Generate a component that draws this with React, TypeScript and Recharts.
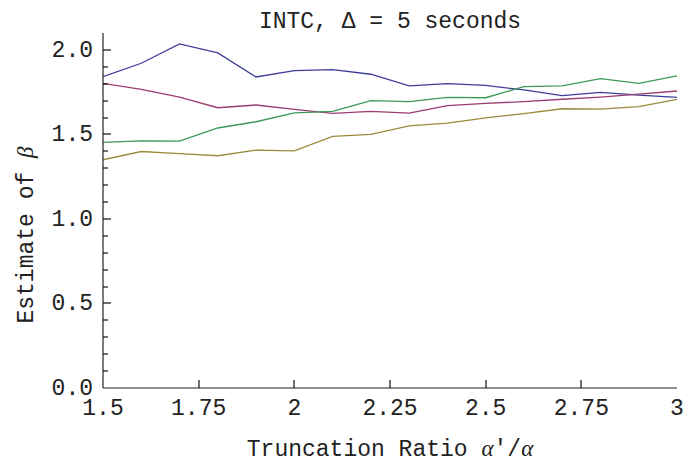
import React from "react";
import { LineChart, Line, XAxis, YAxis } from "recharts";

const ratios = [1.5, 1.6, 1.7, 1.8, 1.9, 2.0, 2.1, 2.2, 2.3, 2.4, 2.5, 2.6, 2.7, 2.8, 2.9, 3.0];
const seriesBlue = [1.842, 1.921, 2.036, 1.982, 1.840, 1.877, 1.883, 1.856, 1.787, 1.800, 1.790, 1.763, 1.729, 1.749, 1.733, 1.719];
const seriesRed = [1.802, 1.767, 1.721, 1.658, 1.674, 1.648, 1.625, 1.636, 1.626, 1.670, 1.684, 1.694, 1.708, 1.721, 1.739, 1.757];
const seriesGreen = [1.453, 1.462, 1.460, 1.538, 1.575, 1.628, 1.636, 1.700, 1.694, 1.719, 1.717, 1.783, 1.787, 1.830, 1.802, 1.846];
const seriesOlive = [1.350, 1.399, 1.387, 1.374, 1.407, 1.403, 1.488, 1.500, 1.551, 1.567, 1.598, 1.623, 1.652, 1.650, 1.664, 1.708];

const xTicks = [1.5, 1.75, 2, 2.25, 2.5, 2.75, 3];
const yTicks = [0, 0.1, 0.2, 0.3, 0.4, 0.5, 0.6, 0.7, 0.8, 0.9, 1.0, 1.1, 1.2, 1.3, 1.4, 1.5, 1.6, 1.7, 1.8, 1.9, 2.0];
const yMajor = [0, 0.5, 1.0, 1.5, 2.0];

const data = ratios.map((r, i) => ({
  r,
  blue: seriesBlue[i],
  red: seriesRed[i],
  green: seriesGreen[i],
  olive: seriesOlive[i],
}));

const FONT = "'Liberation Mono', 'Courier New', monospace";
const GREEK = "'Liberation Serif', serif";
const FS = 23;
const AXIS = "#222";
const TICK = "#111";
const TEXT = "#222";

const XTick = (props: any) => {
  const x = Number(props.x);
  const y = Number(props.y);
  const v = Number(props.payload.value);
  const edge = v === 1.5 || v === 3;
  return (
    <g>
      {!edge && <rect x={Math.round(x) - 0.6} y={y - 8} width={1.2} height={8} fill={TICK} />}
      <text x={x} y={y + 27} textAnchor="middle" fontFamily={FONT} fontSize={FS} fill={TEXT}>
        {String(v)}
      </text>
    </g>
  );
};

const YTick = (props: any) => {
  const x = Number(props.x);
  const y = Number(props.y);
  const v = Number(props.payload.value);
  const major = yMajor.some((m) => Math.abs(m - v) < 1e-6);
  return (
    <g>
      {v > 1e-6 && (
        <rect x={x} y={Math.round(y) - 0.6} width={major ? 8 : 5} height={1.2} fill={TICK} />
      )}
      {major && (
        <text x={x - 10} y={y + 7} textAnchor="end" fontFamily={FONT} fontSize={FS} fill={TEXT}>
          {v.toFixed(1)}
        </text>
      )}
    </g>
  );
};

export default function App() {
  return (
    <div style={{ position: "absolute", left: 0, top: 0, width: 685, height: 462, background: "#fff" }}>
      <LineChart width={685} height={462} data={data} margin={{ top: 33, right: 8, bottom: 0, left: 0 }}>
        <XAxis
          dataKey="r"
          type="number"
          domain={[1.5, 3]}
          ticks={xTicks}
          interval={0}
          tick={<XTick />}
          tickLine={false}
          tickSize={0}
          tickMargin={0}
          axisLine={{ stroke: AXIS, strokeWidth: 1.2 }}
          height={74}
          allowDataOverflow
        />
        <XAxis
          xAxisId="top"
          orientation="top"
          dataKey="r"
          type="number"
          domain={[1.5, 3]}
          tick={false}
          tickLine={false}
          axisLine={{ stroke: AXIS, strokeWidth: 1.2 }}
          height={0}
          allowDataOverflow
        />
        <YAxis
          type="number"
          domain={[0, 2.1]}
          ticks={yTicks}
          interval={0}
          tick={<YTick />}
          tickLine={false}
          tickSize={0}
          tickMargin={0}
          axisLine={{ stroke: AXIS, strokeWidth: 1.2 }}
          width={103}
          allowDataOverflow
        />
        <YAxis
          yAxisId="right"
          orientation="right"
          type="number"
          domain={[0, 2.1]}
          tick={false}
          tickLine={false}
          axisLine={{ stroke: AXIS, strokeWidth: 1.2 }}
          width={0}
          allowDataOverflow
        />
        <Line dataKey="blue" stroke="#3d3d99" strokeWidth={1.3} dot={false} isAnimationActive={false} />
        <Line dataKey="red" stroke="#993d71" strokeWidth={1.3} dot={false} isAnimationActive={false} />
        <Line dataKey="green" stroke="#3d9956" strokeWidth={1.3} dot={false} isAnimationActive={false} />
        <Line dataKey="olive" stroke="#998b3d" strokeWidth={1.3} dot={false} isAnimationActive={false} />
        <text x={390} y={28} textAnchor="middle" fontFamily={FONT} fontSize={FS} fill={TEXT}>
          INTC, Δ = 5 seconds
        </text>
        <text x={390} y={456} textAnchor="middle" fontFamily={FONT} fontSize={FS} fill={TEXT}>
          Truncation Ratio <tspan fontFamily={GREEK} fontStyle="italic">α</tspan>'/<tspan fontFamily={GREEK} fontStyle="italic">α</tspan>
        </text>
        <text
          x={33}
          y={235}
          transform="rotate(-90 33 235)"
          textAnchor="middle"
          fontFamily={FONT}
          fontSize={FS}
          fill={TEXT}
        >
          Estimate of <tspan fontFamily={GREEK} fontStyle="italic">β</tspan>
        </text>
      </LineChart>
    </div>
  );
}
